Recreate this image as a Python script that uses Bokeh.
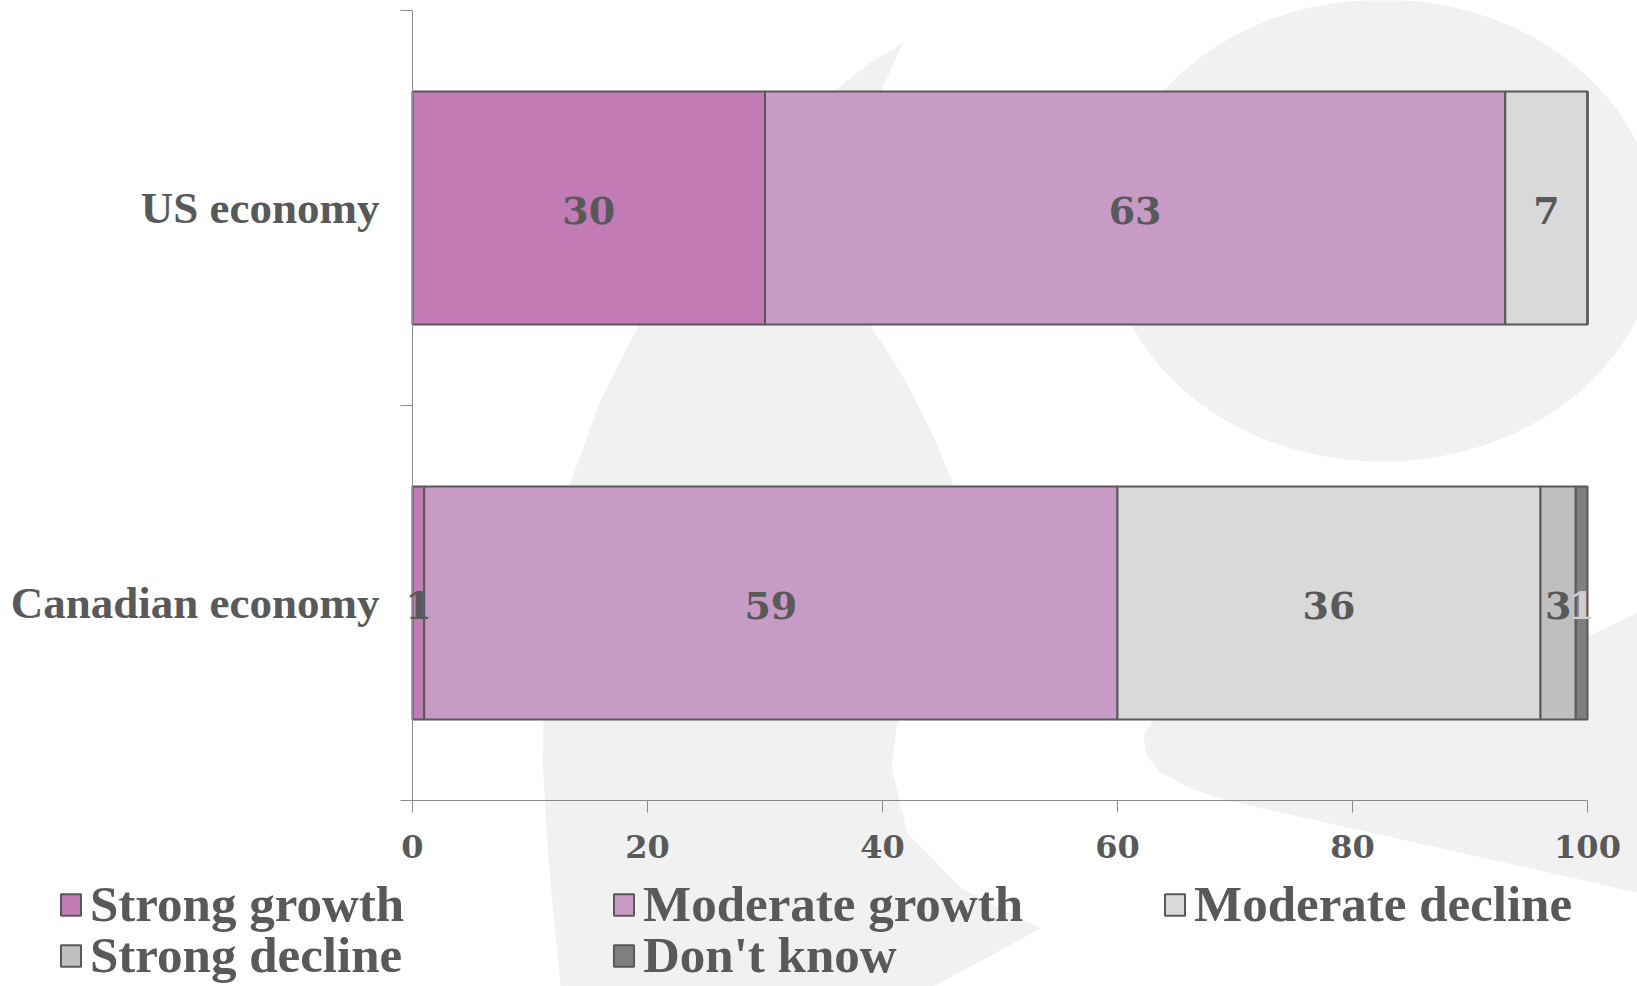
import numpy as np
from bokeh.plotting import figure
from bokeh.models import (Range1d, FixedTicker, Legend, LegendItem, LinearAxis,
                          ColumnDataSource, PolyAnnotation, LabelSet)
from bokeh.core.properties import value
from bokeh.embed import file_html
from bokeh.resources import INLINE

# ---- data -------------------------------------------------------------
categories = ["Canadian economy", "US economy"]          # bottom to top
series_names = ["Strong growth", "Moderate growth", "Moderate decline",
                "Strong decline", "Don't know"]
strong_growth = [1, 30]
moderate_growth = [59, 63]
moderate_decline = [36, 7]
strong_decline = [3, 0]
dont_know = [1, 0]
x_ticks = [0, 20, 40, 60, 80, 100]

series_values = [strong_growth, moderate_growth, moderate_decline,
                 strong_decline, dont_know]
series_keys = ["sg", "mg", "md", "sd", "dk"]
colors = ["#C27BB4", "#C79BC6", "#D9D9D9", "#BFBFBF", "#7F7F7F"]
label_colors = ["#595959", "#595959", "#595959", "#595959", "#CFCFCF"]

TEXT = "#595959"
AXIS = "#8A8A8A"

# ---- canvas geometry: the plotting area sits inside a full-canvas frame --
W, H = 1637, 986
AREA_LEFT, AREA_RIGHT = 412, 1587     # pixel columns of x = 0 and x = 100
AREA_TOP, AREA_BOTTOM = 10, 800       # pixel rows of the top and bottom of the bar area
x_max = x_ticks[-1]
n_cat = len(categories)
px_per_x = (AREA_RIGHT - AREA_LEFT) / x_max
px_per_y = (AREA_BOTTOM - AREA_TOP) / n_cat
x_range = Range1d(-AREA_LEFT / px_per_x, (W - AREA_LEFT) / px_per_x)
y_range = Range1d(-(H - AREA_BOTTOM) / px_per_y, n_cat + AREA_TOP / px_per_y)

p = figure(width=W, height=H, output_backend="svg", toolbar_location=None,
           x_range=x_range, y_range=y_range,
           x_axis_location=None, y_axis_location=None, min_border=0)
p.outline_line_color = None
p.grid.visible = False
p.background_fill_color = "white"
p.border_fill_color = "white"

# ---- background watermark shapes (canvas pixels) ---------------------
bg = "#F1F1F1"
t = np.linspace(0, 2 * np.pi, 160)
ell_x = list(1382 + 275 * np.cos(t))
ell_y = list(230 + 231 * np.sin(t))
crescent_x = [902, 870, 834, 790, 740, 690, 638, 600, 569, 553, 545, 542, 548, 560,
              933, 1040, 960, 907, 891, 896, 925, 950, 953, 935, 905, 870, 868, 881]
crescent_y = [43, 62, 90, 130, 185, 250, 325, 400, 485, 560, 650, 760, 860, 986,
              986, 928, 887, 833, 767, 727, 650, 560, 485, 440, 380, 325, 200, 90]
tail_x = [1637, 1594, 1500, 1350, 1200, 1152, 1143, 1146, 1160, 1190, 1227, 1637]
tail_y = [612, 633, 665, 700, 716, 720, 735, 755, 772, 788, 800, 892]
for xs, ys in [(ell_x, ell_y), (crescent_x, crescent_y), (tail_x, tail_y)]:
    p.add_layout(PolyAnnotation(xs=xs, ys=ys, xs_units="canvas", ys_units="canvas",
                                fill_color=bg, fill_alpha=1.0, line_color=None,
                                level="underlay", editable=False))

# ---- stacked bars ------------------------------------------------------
y_pos = [i + 0.5 for i in range(n_cat)]
data = {"y": y_pos}
for k, v in zip(series_keys, series_values):
    data[k] = v
src = ColumnDataSource(data)
bars = p.hbar_stack(series_keys, y="y", height=0.59, color=colors, source=src,
                    line_color="#595959", line_width=2)

# value labels centred in each segment
lx, ly, lt, lc = [], [], [], []
left = [0] * n_cat
for vals, lcol in zip(series_values, label_colors):
    for i, v in enumerate(vals):
        if v > 0:
            lx.append(left[i] + v / 2)
            ly.append(y_pos[i])
            lt.append(str(v))
            lc.append(lcol)
        left[i] += v
lab_src = ColumnDataSource(dict(x=lx, y=ly, text=lt, color=lc))
p.add_layout(LabelSet(x="x", y="y", text="text", source=lab_src,
                      text_color="color", text_align="center",
                      text_baseline="middle", text_font=value("DejaVu Serif"),
                      text_font_style="bold", text_font_size="38px",
                      y_offset=-2))

# ---- axes, pinned to the data origin -----------------------------------
xa = LinearAxis(fixed_location=0, bounds=(0, x_max))
xa.ticker = FixedTicker(ticks=x_ticks, minor_ticks=[])
xa.axis_line_color = AXIS
xa.major_tick_line_color = AXIS
xa.major_tick_out = 12
xa.major_tick_in = 0
xa.minor_tick_line_color = None
xa.major_label_standoff = 22
xa.major_label_text_font = "DejaVu Serif"
xa.major_label_text_font_style = "bold"
xa.major_label_text_font_size = "32px"
xa.major_label_text_color = TEXT
p.add_layout(xa, "below")

ya = LinearAxis(fixed_location=0, bounds=(0, n_cat))
ya.ticker = FixedTicker(ticks=y_pos, minor_ticks=list(range(n_cat + 1)))
ya.major_label_overrides = {y: c for y, c in zip(y_pos, categories)}
ya.axis_line_color = AXIS
ya.major_tick_line_color = None
ya.major_tick_out = 0
ya.major_tick_in = 0
ya.minor_tick_line_color = AXIS
ya.minor_tick_out = 12
ya.minor_tick_in = 0
ya.major_label_standoff = 21
ya.major_label_text_font = "Liberation Serif"
ya.major_label_text_font_style = "bold"
ya.major_label_text_font_size = "45px"
ya.major_label_text_color = TEXT
p.add_layout(ya, "left")

# ---- legend: one entry per box, laid out on a 3-column grid -------------
legend_cols = [58, 611, 1162]          # left pixel of each column's swatch
legend_rows = [904, 955]               # centre pixel row of each legend row
item_h = 60
for j, name in enumerate(series_names):
    r, c = divmod(j, 3)
    leg = Legend(items=[LegendItem(label=name, renderers=[bars[j]])],
                 location=(legend_cols[c], H - (legend_rows[r] + item_h / 2)),
                 orientation="vertical", padding=0, margin=0, spacing=0,
                 border_line_color=None, background_fill_alpha=0,
                 glyph_width=25, glyph_height=27, label_standoff=7,
                 label_text_font="Liberation Serif", label_text_font_style="bold",
                 label_text_font_size="51px", label_text_color=TEXT,
                 label_height=item_h)
    p.add_layout(leg)

open("out.html", "w").write(file_html(p, INLINE))
